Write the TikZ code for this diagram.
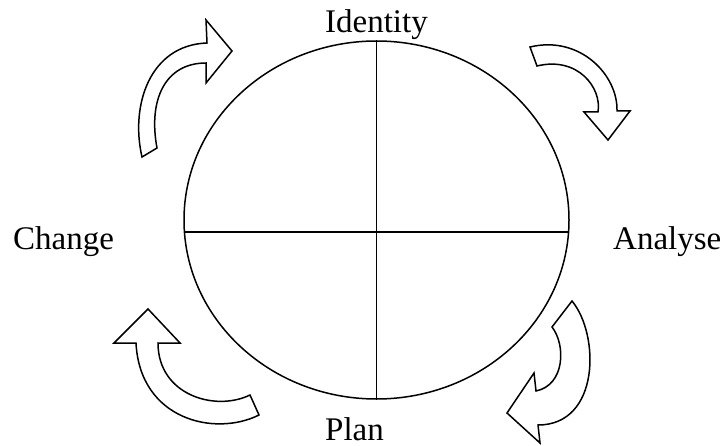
\documentclass[tikz,border=0pt]{standalone}
\usepackage{fontspec}
\setmainfont{Liberation Serif}
\usetikzlibrary{shapes.geometric}
\tikzset{
	cycleLine/.style={line width=1.5pt},
	cycleWheel/.style={cycleLine, draw, ellipse, inner sep=0pt},
	cycleArrow/.style={cycleLine, draw, fill=white, line join=miter},
	cycleLabel/.style={inner sep=0pt, anchor=base, font=\fontsize{33}{40}\selectfont}
}
\begin{document}
\begin{tikzpicture}[x=1pt, y=-1pt]
	\useasboundingbox (0,0) rectangle (725,446);

	% Wheel and cross
	\node[cycleWheel, minimum width=385pt, minimum height=358pt] (wheel) at (376.5,220) {};
	\coordinate (crossW) at (184.5,232);
	\coordinate (crossE) at (568.5,232);
	\draw[cycleLine] (wheel.north) -- (wheel.south);
	\draw[cycleLine] (crossW) -- (crossE);

	% Labels
	\node[cycleLabel] (identity) at (376.5,33) {Identity};
	\node[cycleLabel, anchor=base west] (analyse) at (613,250) {Analyse};
	\node[cycleLabel, anchor=base west] (plan) at (325,440) {Plan};
	\node[cycleLabel, anchor=base west] (change) at (13,250) {Change};

	% Curved arrows
	% top left
	\draw[cycleArrow] (142,157) .. controls (130,105) and (150,45) .. (207,43)
		-- (206,20) -- (232,51) -- (206,83) -- (206,63)
		.. controls (165,63) and (148,100) .. (157,148) -- cycle;
	% top right
	\draw[cycleArrow] (530,47) .. controls (580,35) and (618,75) .. (617,111)
		-- (630,111) -- (608,140) -- (584,112) -- (598,112)
		.. controls (602,88) and (578,56) .. (537,66) -- cycle;
	% bottom right
	\draw[cycleArrow] (572,301) .. controls (600,335) and (600,425) .. (538,425)
		-- (540,443) -- (507,413) -- (534,373) -- (536,391)
		.. controls (565,385) and (566,345) .. (552,327) -- cycle;
	% bottom left
	\draw[cycleArrow] (259,415) .. controls (215,437) and (140,420) .. (136,343)
		-- (114,343) -- (148,309) -- (180,343) -- (158,343)
		.. controls (158,395) and (215,412) .. (250,395) -- cycle;

\end{tikzpicture}
\end{document}
